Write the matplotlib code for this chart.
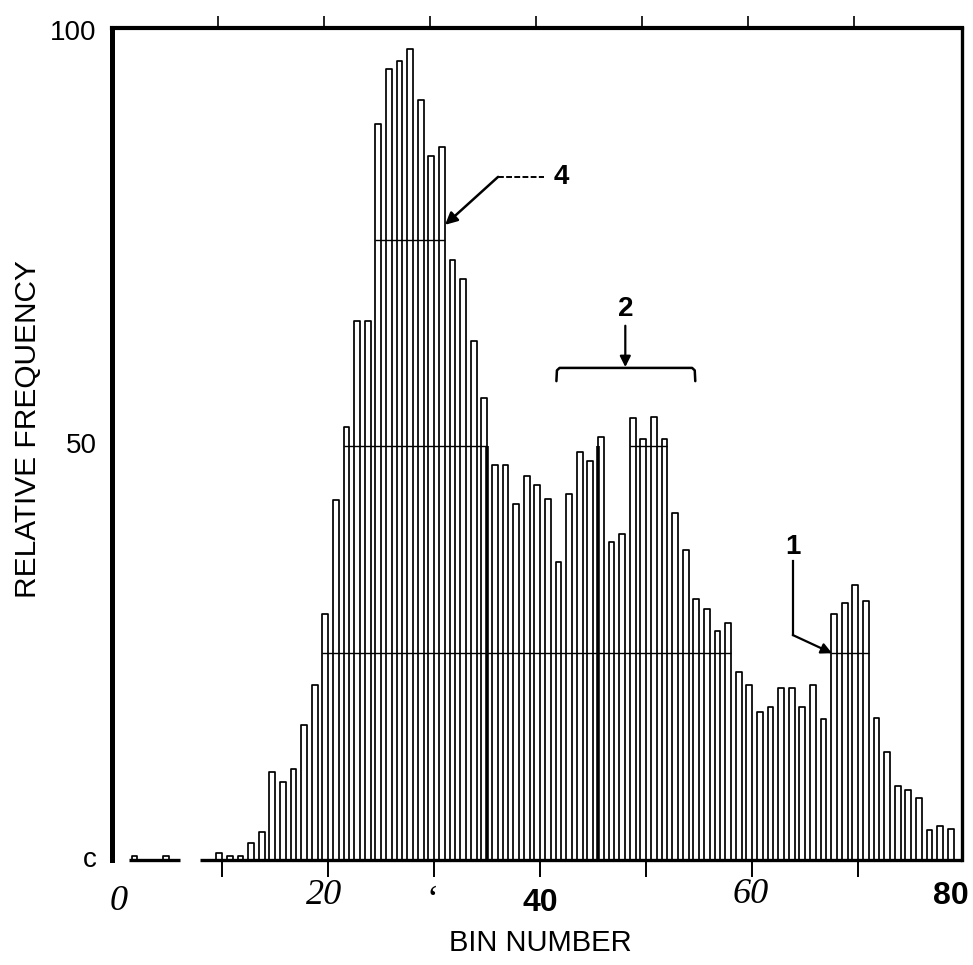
import numpy as np
import matplotlib
matplotlib.use("Agg")
import matplotlib.pyplot as plt

# relative frequency per bin (bins 0..79)
bins = np.arange(80)
freq = np.array([
    0, 0, 0.5, 0, 0, 0.5, 0, 0, 0, 0,
    0.8, 0.5, 0.5, 2.1, 3.4, 10.6, 9.4, 11.0, 16.3, 21.2,
    29.8, 43.5, 52.3, 65.2, 65.2, 89.0, 95.6, 96.6, 98.1, 91.9,
    85.1, 86.2, 72.6, 70.2, 62.8, 55.9, 47.8, 47.8, 43.1, 46.4,
    45.4, 43.6, 36.0, 44.2, 49.3, 48.2, 51.1, 38.4, 39.4, 53.5,
    50.9, 53.6, 50.9, 41.9, 37.5, 31.5, 30.3, 27.7, 28.6, 22.7,
    21.2, 17.9, 18.5, 20.8, 20.8, 18.5, 21.2, 17.1, 29.7, 31.1,
    33.3, 31.3, 17.2, 13.1, 8.9, 8.5, 7.5, 3.6, 4.1, 3.7,
])

# horizontal level marks: (level, first bin, last bin)
level_runs = [(75, 25, 31), (50, 22, 35), (50, 49, 52), (25, 20, 58), (25, 68, 71)]

# bar edges that print darker in the scan: (bin, side)
dark_edges = [(35, 1), (46, -1)]

# x labels as printed on the figure
xlab_pos = [0.5, 19.9, 30.1, 40.3, 60.1, 79.0]
xlab_txt = ["0", "20", "\u2018", "40", "60", "80"]
ylab_pos = [0, 50, 100]
ylab_txt = ["c", "50", "100"]

BAR_W = 0.55
SERIF_IT = dict(family="Liberation Serif", style="italic", fontsize=26)
SANS_B = dict(family="Liberation Sans", fontweight="bold", fontsize=23)
xlab_style = [SERIF_IT, SERIF_IT, dict(family="Liberation Serif", fontsize=26),
              SANS_B, SERIF_IT, SANS_B]
xlab_y = [-0.050, -0.043, -0.050, -0.052, -0.041, -0.043]

fig = plt.figure(figsize=(9.73, 9.65), dpi=100)
ax = fig.add_axes([0.1151, 0.1088, 0.8736, 0.8622])

mask = freq > 0
ax.bar(bins[mask], freq[mask], width=BAR_W, color="white", edgecolor="black",
       linewidth=1.25, zorder=2, joinstyle="round")

for lvl, a, b in level_runs:
    ax.hlines(lvl, a - BAR_W / 2, b + BAR_W / 2, color="black", lw=1.0, zorder=3)

for b, side in dark_edges:
    ax.vlines(b + side * BAR_W / 2, 0, min(freq[b], 50), color="black", lw=2.6, zorder=3)

# broken base line
ax.hlines(0, 1.5, 6.3, color="black", lw=2.4, zorder=4, clip_on=False)
ax.hlines(0, 8.2, 80.1, color="black", lw=2.4, zorder=4, clip_on=False)

ax.set_xlim(-0.12, 80.06)
ax.set_ylim(0, 100.6)

ax.spines["bottom"].set_visible(False)
ax.spines["left"].set_linewidth(3.6)
ax.spines["top"].set_linewidth(3.0)
ax.spines["right"].set_linewidth(2.4)

ax.set_yticks([])
ax.set_xticks(np.arange(10, 71, 10) + 0.25)
ax.set_xticklabels([])
ax.tick_params(axis="x", direction="out", length=12, width=1.4, color="black")

top = ax.secondary_xaxis("top")
top.set_xticks(np.arange(10, 71, 10) - 0.1)
top.set_xticklabels([])
top.tick_params(direction="out", length=9, width=1.2)
top.spines["top"].set_visible(False)

for x, t, st, yy in zip(xlab_pos, xlab_txt, xlab_style, xlab_y):
    ax.text(x, yy, t, transform=ax.get_xaxis_transform(), ha="center", va="center", **st)

for y, t in zip(ylab_pos, ylab_txt):
    ax.text(-0.018, y, t, transform=ax.get_yaxis_transform(), ha="right", va="center",
            family="Liberation Sans", fontsize=20)

fig.text(0.029, 0.555, "RELATIVE FREQUENCY", rotation=90, ha="center", va="center",
         family="Liberation Sans", fontsize=21.5)
fig.text(0.555, 0.023, "BIN NUMBER", ha="center", va="center",
         family="Liberation Sans", fontsize=21)

# annotation 4
ax.text(42.3, 82.6, "4", ha="center", va="center", fontsize=20, fontweight="bold",
        family="Liberation Sans")
ax.plot([36.3, 40.6], [82.6, 82.6], color="black", lw=1.4, ls=(0, (3, 1.2)))
ax.annotate("", xy=(31.3, 76.8), xytext=(36.3, 82.6),
            arrowprops=dict(arrowstyle="-|>", lw=1.8, color="black", mutation_scale=18,
                            shrinkA=0, shrinkB=0))

# annotation 2 with bracket
ax.text(48.3, 66.6, "2", ha="center", va="center", fontsize=20, fontweight="bold",
        family="Liberation Sans")
ax.annotate("", xy=(48.3, 59.6), xytext=(48.3, 64.6),
            arrowprops=dict(arrowstyle="-|>", lw=1.6, color="black", mutation_scale=16,
                            shrinkA=0, shrinkB=0))
ax.plot([41.8, 41.85, 42.1, 54.6, 54.85, 54.9], [57.9, 59.2, 59.5, 59.5, 59.2, 57.9],
        color="black", lw=1.8, solid_capstyle="round")

# annotation 1
ax.text(64.1, 37.9, "1", ha="center", va="center", fontsize=20, fontweight="bold",
        family="Liberation Sans")
ax.plot([64.1, 64.1], [36.2, 27.2], color="black", lw=1.6)
ax.annotate("", xy=(67.8, 25.0), xytext=(64.1, 27.2),
            arrowprops=dict(arrowstyle="-|>", lw=1.6, color="black", mutation_scale=16,
                            shrinkA=0, shrinkB=0))

fig.savefig("out.png", dpi=100)
